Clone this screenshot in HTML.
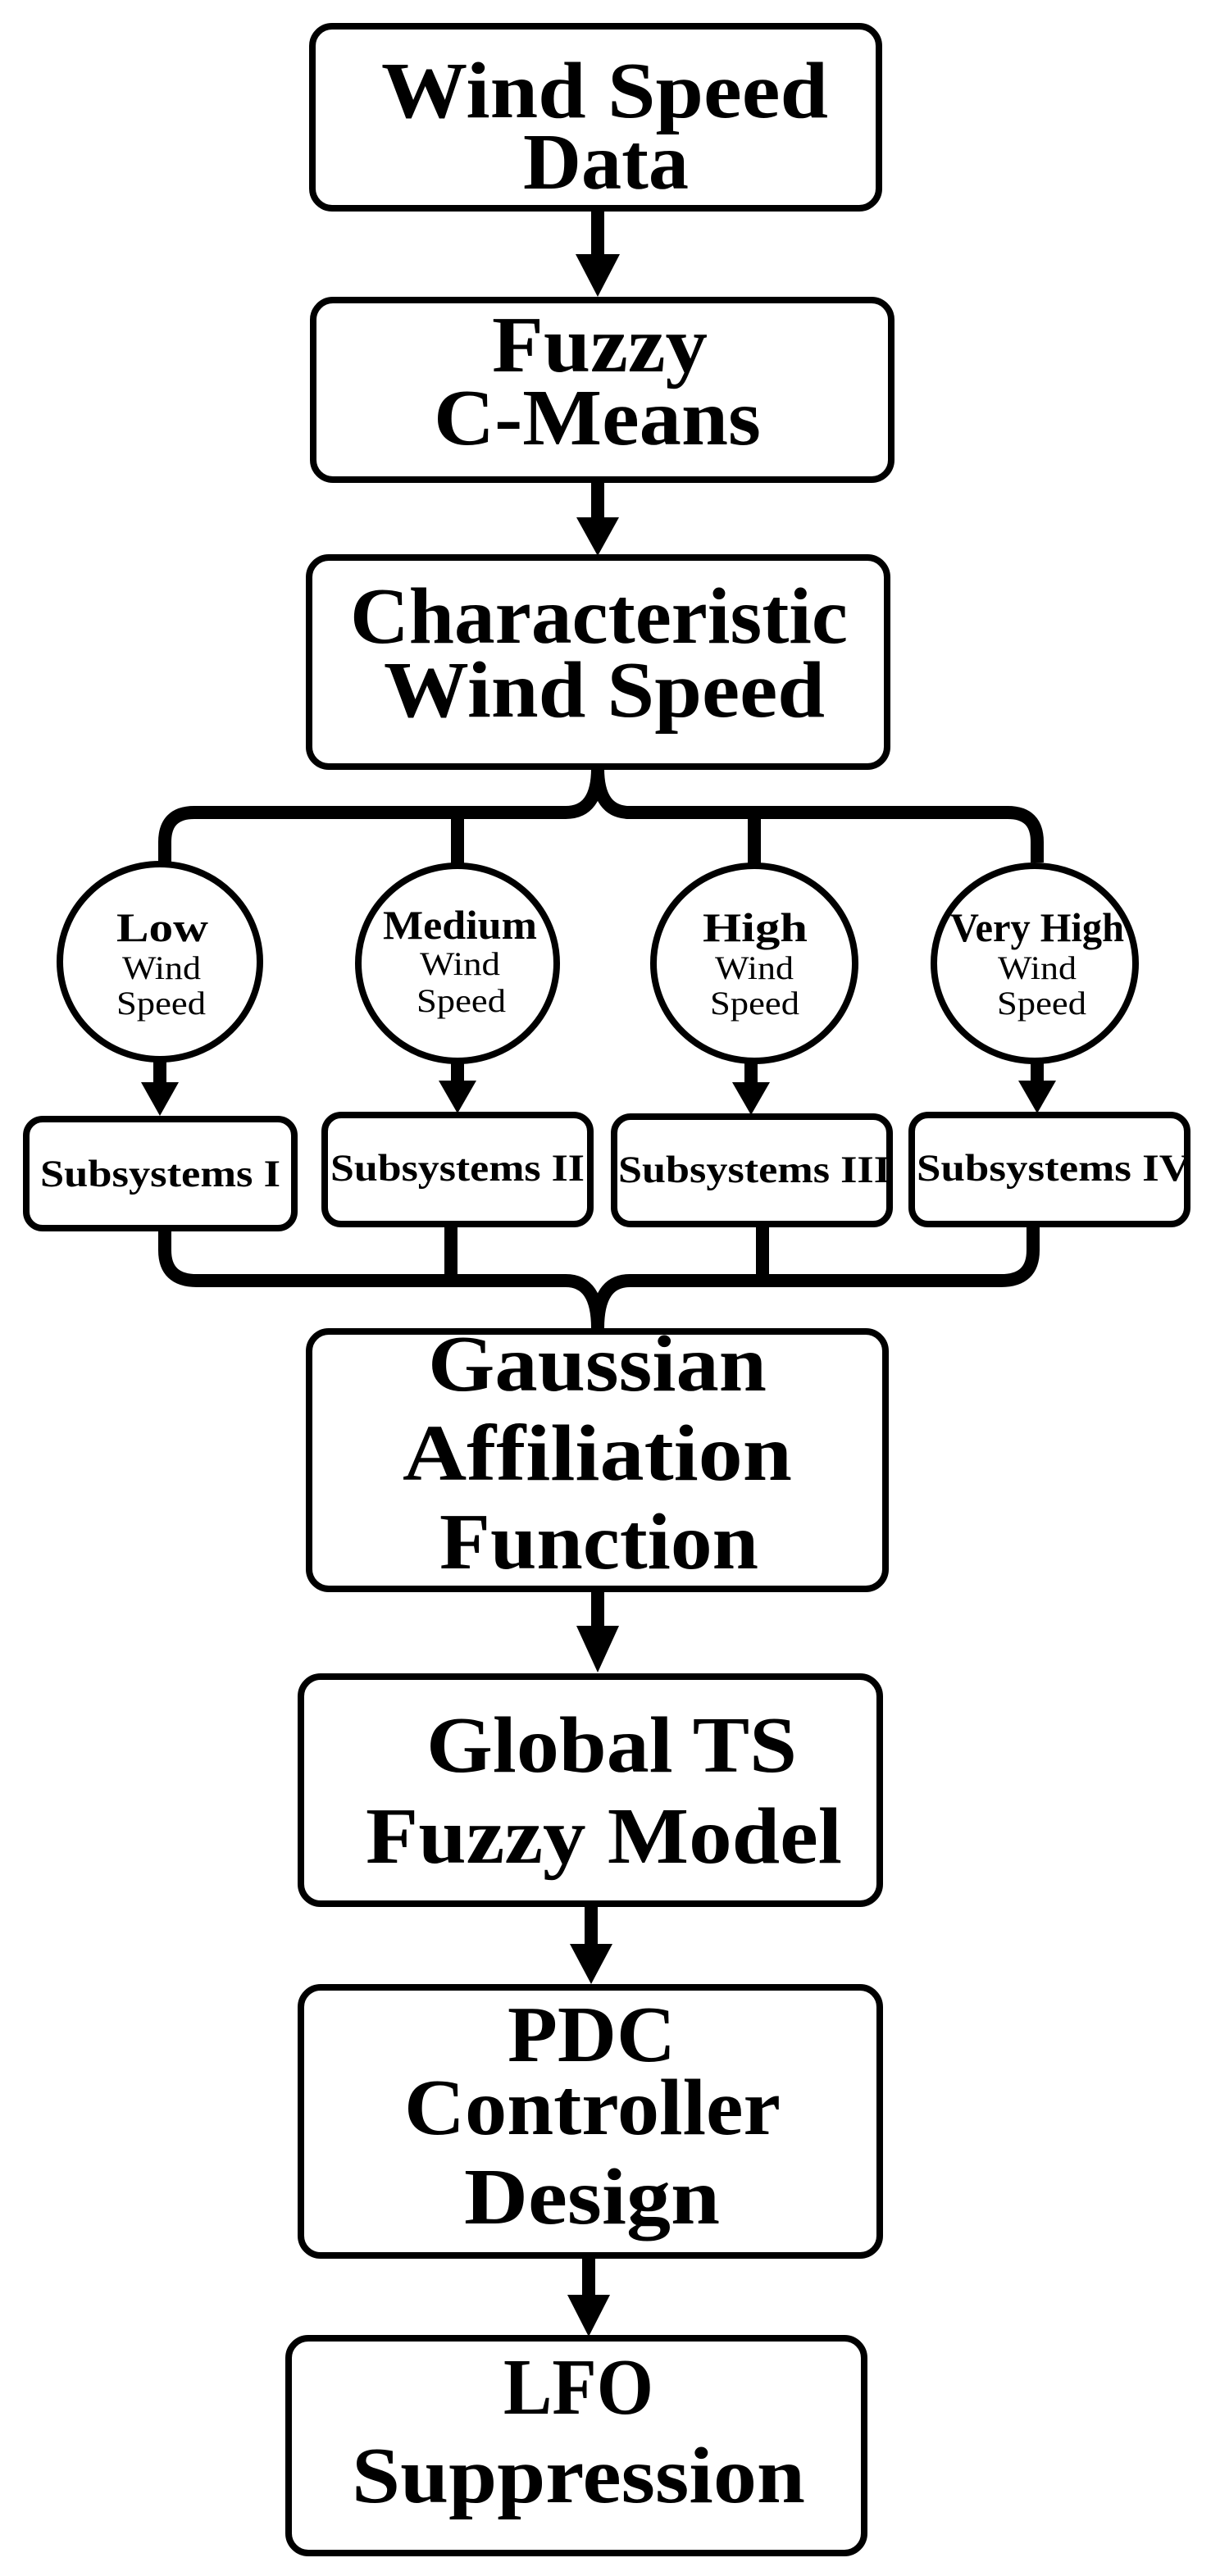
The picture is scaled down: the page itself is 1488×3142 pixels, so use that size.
<!DOCTYPE html>
<html><head><meta charset="utf-8"><style>html,body{margin:0;padding:0;background:#fff}svg{display:block}</style></head>
<body>
<svg width="1488" height="3142" viewBox="0 0 1488 3142" xmlns="http://www.w3.org/2000/svg">
<defs><marker id="a" markerUnits="userSpaceOnUse" markerWidth="60" markerHeight="60" refX="0" refY="0"/></defs>
<g fill="none" stroke="#000" stroke-width="8">
<rect x="381" y="32" width="691" height="222" rx="24"/>
<rect x="382" y="366" width="705" height="219" rx="24"/>
<rect x="377" y="680" width="705" height="255" rx="24"/>
<rect x="377" y="1624" width="703" height="314" rx="24"/>
<rect x="367" y="2045" width="706" height="277" rx="24"/>
<rect x="367" y="2424" width="706" height="327" rx="24"/>
<rect x="352" y="2852" width="702" height="262" rx="24"/>
<rect x="32" y="1365" width="327" height="133" rx="20"/>
<rect x="396" y="1360" width="324" height="133" rx="20"/>
<rect x="749" y="1362" width="336" height="131" rx="20"/>
<rect x="1112" y="1360" width="336" height="133" rx="20"/>
<ellipse cx="195" cy="1173" rx="122" ry="119"/>
<ellipse cx="558" cy="1175" rx="121" ry="119"/>
<ellipse cx="920" cy="1175" rx="123" ry="119"/>
<ellipse cx="1262" cy="1175" rx="123" ry="119"/>
</g>
<g fill="none" stroke="#000" stroke-width="16">
<path d="M729,937 Q729,991 690,991 H237 Q201,991 201,1027 V1052"/>
<path d="M729,937 Q729,991 768,991 H1229 Q1265,991 1265,1027 V1052"/>
<path d="M558,991 V1055 M920,991 V1055"/>
<path d="M201,1500 V1525 Q201,1562 240,1562 H690 Q729,1562 729,1620"/>
<path d="M1260,1497 V1525 Q1260,1562 1221,1562 H768 Q729,1562 729,1620"/>
<path d="M550,1495 V1562 M930,1495 V1562"/>
<path d="M729,256 V315 M729,587 V636 M195,1294 V1325 M558,1294 V1325 M916,1294 V1325 M1265,1294 V1325 M729,1938 V1988 M721,2324 V2375 M718,2753 V2803"/>
</g>
<g fill="#000">
<path d="M702,310 L756,310 L729,362 Z"/>
<path d="M703,631 L755,631 L729,678 Z"/>
<path d="M172,1320 L218,1320 L195,1361 Z"/>
<path d="M535,1318 L581,1318 L558,1358 Z"/>
<path d="M893,1320 L939,1320 L916,1360 Z"/>
<path d="M1242,1318 L1288,1318 L1265,1358 Z"/>
<path d="M703,1983 L755,1983 L729,2040 Z"/>
<path d="M695,2371 L747,2371 L721,2420 Z"/>
<path d="M692,2799 L744,2799 L718,2850 Z"/>
</g>
<g font-family="'Liberation Serif',serif" font-weight="bold" fill="#000" lengthAdjust="spacingAndGlyphs">
<g font-size="98">
<text x="465" y="143" textLength="545" lengthAdjust="spacingAndGlyphs">Wind Speed</text>
<text x="638" y="230" textLength="202" lengthAdjust="spacingAndGlyphs">Data</text>
<text x="600" y="453" textLength="263" lengthAdjust="spacingAndGlyphs">Fuzzy</text>
<text x="529" y="542" textLength="399" lengthAdjust="spacingAndGlyphs">C-Means</text>
<text x="427" y="784" textLength="607" lengthAdjust="spacingAndGlyphs">Characteristic</text>
<text x="468" y="874" textLength="538" lengthAdjust="spacingAndGlyphs">Wind Speed</text>
<text x="522" y="1696" textLength="413" lengthAdjust="spacingAndGlyphs">Gaussian</text>
<text x="491" y="1805" textLength="475" lengthAdjust="spacingAndGlyphs">Affiliation</text>
<text x="536" y="1913" textLength="389" lengthAdjust="spacingAndGlyphs">Function</text>
<text x="520" y="2161" textLength="452" lengthAdjust="spacingAndGlyphs">Global TS</text>
<text x="446" y="2272" textLength="581" lengthAdjust="spacingAndGlyphs">Fuzzy Model</text>
<text x="619" y="2514" textLength="205" lengthAdjust="spacingAndGlyphs">PDC</text>
<text x="493" y="2603" textLength="459" lengthAdjust="spacingAndGlyphs">Controller</text>
<text x="566" y="2712" textLength="312" lengthAdjust="spacingAndGlyphs">Design</text>
<text x="614" y="2944" textLength="183" lengthAdjust="spacingAndGlyphs">LFO</text>
<text x="429" y="3052" textLength="553" lengthAdjust="spacingAndGlyphs">Suppression</text>
</g>
<g font-size="50">
<text x="142" y="1148" textLength="112" lengthAdjust="spacingAndGlyphs">Low</text>
<text x="467" y="1145" textLength="188" lengthAdjust="spacingAndGlyphs">Medium</text>
<text x="857" y="1148" textLength="128" lengthAdjust="spacingAndGlyphs">High</text>
<text x="1159" y="1148" textLength="212" lengthAdjust="spacingAndGlyphs">Very High</text>
</g>
<g font-size="47">
<text x="49" y="1447" textLength="293" lengthAdjust="spacingAndGlyphs">Subsystems I</text>
<text x="403" y="1440" textLength="310" lengthAdjust="spacingAndGlyphs">Subsystems II</text>
<text x="754" y="1442" textLength="332" lengthAdjust="spacingAndGlyphs">Subsystems III</text>
<text x="1118" y="1440" textLength="334" lengthAdjust="spacingAndGlyphs">Subsystems IV</text>
</g>
<g font-size="40" font-weight="normal">
<text x="149" y="1194" textLength="96" lengthAdjust="spacingAndGlyphs">Wind</text>
<text x="142" y="1237" textLength="109" lengthAdjust="spacingAndGlyphs">Speed</text>
<text x="512" y="1189" textLength="98" lengthAdjust="spacingAndGlyphs">Wind</text>
<text x="508" y="1234" textLength="109" lengthAdjust="spacingAndGlyphs">Speed</text>
<text x="872" y="1194" textLength="96" lengthAdjust="spacingAndGlyphs">Wind</text>
<text x="866" y="1237" textLength="109" lengthAdjust="spacingAndGlyphs">Speed</text>
<text x="1217" y="1194" textLength="96" lengthAdjust="spacingAndGlyphs">Wind</text>
<text x="1216" y="1237" textLength="109" lengthAdjust="spacingAndGlyphs">Speed</text>
</g>
</g>
</svg>
</body></html>
